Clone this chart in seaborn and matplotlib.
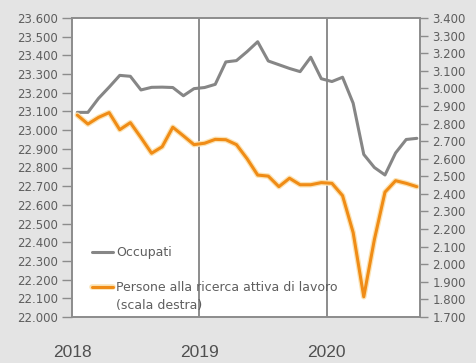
import matplotlib
matplotlib.use("Agg")
import matplotlib.pyplot as plt
from matplotlib.lines import Line2D
from matplotlib.ticker import FuncFormatter, MultipleLocator
import matplotlib.patheffects as pe
import seaborn as sns
import pandas as pd
import numpy as np

# monthly data, Jan 2018 - Sep 2020 (thousands)
occupati = [23095, 23095, 23170, 23230, 23293, 23288, 23215, 23229, 23230, 23228,
            23184, 23222, 23228, 23245, 23365, 23372, 23420, 23473, 23370, 23350,
            23330, 23313, 23390, 23275, 23260, 23283, 23144, 22870, 22800, 22760,
            22878, 22950, 22956]
persone = [2848, 2797, 2835, 2862, 2765, 2805, 2720, 2631, 2668, 2779,
           2730, 2680, 2688, 2710, 2708, 2680, 2600, 2507, 2501, 2441,
           2489, 2452, 2452, 2464, 2460, 2390, 2180, 1815, 2140, 2410,
           2475, 2460, 2441]
year_labels = ["2018", "2019", "2020"]
label_occ = "Occupati"
label_pers = "Persone alla ricerca attiva di lavoro\n(scala destra)"

df = pd.DataFrame({"mese": np.arange(len(occupati)),
                   "occupati": occupati, "persone": persone})

sns.set_theme(style="white")
plt.rcParams['font.family'] = ['DejaVu Sans']

BG = "#e4e4e4"
GRAY_LINE = "#868686"
ORANGE = "#f08c16"
AX_COL = "#8c8c8c"
TXT = "#5e5e5e"

fig = plt.figure(figsize=(4.77, 3.63), dpi=100, facecolor=BG)
ax = fig.add_axes([72/477, 46/363, 348/477, 299/363])
ax.set_facecolor("white")
ax2 = ax.twinx()

sns.lineplot(data=df, x="mese", y="occupati", ax=ax, color=GRAY_LINE, linewidth=2.2)
sns.lineplot(data=df, x="mese", y="persone", ax=ax2, color=ORANGE, linewidth=2.2)
halo = [pe.Stroke(linewidth=4.0, foreground="#fbe3b4"), pe.Normal()]
for ln in ax2.get_lines():
    ln.set_path_effects(halo)

ax.set_xlim(-0.5, 32.3)
ax.set_ylim(22000, 23600)
ax2.set_ylim(1700, 3400)

fmt = FuncFormatter(lambda v, p: f"{v:,.0f}".replace(",", "."))
ax.yaxis.set_major_locator(MultipleLocator(100))
ax2.yaxis.set_major_locator(MultipleLocator(100))
ax.yaxis.set_major_formatter(fmt)
ax2.yaxis.set_major_formatter(fmt)

# year separators
year_pos = [-0.5, 11.5, 23.5]
for xp in year_pos[1:]:
    ax.axvline(xp, color="#6e6e6e", linewidth=1.1, zorder=1)
ax.set_xticks(year_pos)
ax.set_xticklabels(year_labels)
ax.tick_params(axis="x", length=19, width=1.1, color="#6e6e6e", pad=1.5,
               labelsize=12.5, labelcolor="#505050", direction="out")
ax.xaxis.get_major_ticks()[0].tick1line.set_visible(False)
for t in ax.get_xticklabels():
    t.set_family(['Liberation Sans', 'DejaVu Sans'])

ax.tick_params(axis="y", length=7, width=1.0, color=AX_COL, pad=3,
               labelsize=8.5, labelcolor=TXT, direction="out", left=True)
ax2.tick_params(axis="y", length=6, width=1.0, color=AX_COL, pad=3,
                labelsize=8.5, labelcolor=TXT, direction="out", right=True)

ax.set_xlabel("")
ax.set_ylabel("")
ax2.set_ylabel("")
for a in (ax, ax2):
    for s in a.spines.values():
        s.set_color(AX_COL)
        s.set_linewidth(1.2)
        s.set_visible(True)

# legend (manual, handle aligned with first text line)
ax.add_line(Line2D([0.057, 0.118], [0.217, 0.217], transform=ax.transAxes,
                   color=GRAY_LINE, linewidth=2.2))
ax.text(0.126, 0.217, label_occ, transform=ax.transAxes, fontsize=9,
        color=TXT, va="center", ha="left")
ax.add_line(Line2D([0.057, 0.118], [0.100, 0.100], transform=ax.transAxes,
                   color=ORANGE, linewidth=2.2, path_effects=halo))
ax.text(0.126, 0.100, label_pers.split("\n")[0], transform=ax.transAxes, fontsize=9,
        color=TXT, va="center", ha="left")
ax.text(0.126, 0.040, label_pers.split("\n")[1], transform=ax.transAxes, fontsize=9,
        color=TXT, va="center", ha="left")

fig.savefig("out.png", dpi=100, facecolor=BG)
